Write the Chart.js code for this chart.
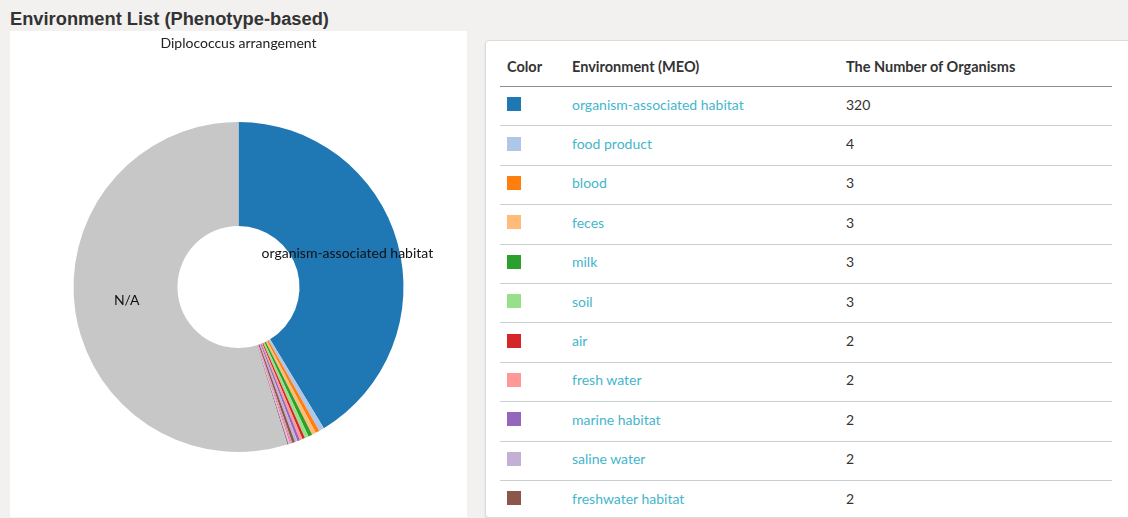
<!DOCTYPE html>
<html>
<head>
<meta charset="utf-8">
<title>Environment List (Phenotype-based)</title>
<script src="https://cdn.jsdelivr.net/npm/chart.js@4"></script>
<style>
  html, body { margin: 0; padding: 0; }
  body {
    width: 1128px; height: 518px; overflow: hidden; position: relative;
    background: #f2f1ef; font-family: Lato, "Open Sans", sans-serif; color: #333;
  }
  h2 {
    position: absolute; left: 10px; top: 8px; margin: 0;
    font: bold 18.3px "Liberation Sans", Arial, sans-serif; color: #333;
  }
  #chartPanel {
    position: absolute; left: 10px; top: 31px; width: 457px; height: 486px; background: #fff;
  }
  #tableCard {
    position: absolute; left: 485px; top: 40px; width: 660px; height: 476px;
    background: #fff; border: 1px solid #dcdcdc; border-radius: 4px;
    box-shadow: 0 1px 2px rgba(0,0,0,0.12); overflow: hidden;
  }
  .row {
    position: absolute; left: 14px; width: 612px; height: 39.4px; box-sizing: border-box;
    font-size: 14px; display: flex; align-items: center; padding-bottom: 4px;
  }
  .head { top: 6px; height: 40px; font-weight: bold; font-size: 14.5px; border-bottom: 1px solid #8c8c8c; padding-bottom: 1px; }
  .cell-color { position: absolute; left: 7px; }
  .cell-env { position: absolute; left: 72px; }
  .cell-num { position: absolute; left: 346px; }
  .swatch { width: 14px; height: 14px; display: block; }
  .env-link { color: #45b6cc; }
  .data { border-bottom: 1px solid #c9cfd0; }
</style>
</head>
<body>
<h2>Environment List (Phenotype-based)</h2>
<div id="chartPanel"><canvas id="envChart"></canvas></div>
<div id="tableCard"></div>
<script>
// Environments ordered by organism count, "N/A" last
const environments = [
  'organism-associated habitat', 'food product', 'blood', 'feces', 'milk', 'soil',
  'air', 'fresh water', 'marine habitat', 'saline water', 'freshwater habitat',
  'host', 'oral cavity', 'sewage', 'urine', 'N/A'
];
const organismCounts = [320, 4, 3, 3, 3, 3, 2, 2, 2, 2, 2, 1, 1, 1, 1, 424];
const sliceColors = [
  '#1f77b4', '#aec7e8', '#ff7f0e', '#ffbb78', '#2ca02c', '#98df8a', '#d62728', '#ff9896',
  '#9467bd', '#c5b0d5', '#8c564b', '#c49c94', '#e377c2', '#f7b6d2', '#7f7f7f', '#c7c7c7'
];
// Slice labels are only drawn for these environments
const labelledEnvironments = ['organism-associated habitat', 'N/A'];
const chartTitle = 'Diplococcus arrangement';
const tableHeaders = ['Color', 'Environment (MEO)', 'The Number of Organisms'];

// Table of environments (N/A excluded)
const card = document.getElementById('tableCard');
const head = document.createElement('div');
head.className = 'row head';
head.innerHTML = '<span class="cell-color">' + tableHeaders[0] + '</span>' +
  '<span class="cell-env">' + tableHeaders[1] + '</span>' +
  '<span class="cell-num">' + tableHeaders[2] + '</span>';
card.appendChild(head);
environments.forEach((env, i) => {
  if (env === 'N/A') return;
  const row = document.createElement('div');
  row.className = 'row data';
  row.style.top = (46 + i * 39.4) + 'px';
  row.innerHTML = '<span class="cell-color"><span class="swatch" style="background:' + sliceColors[i] + '"></span></span>' +
    '<span class="cell-env env-link">' + env + '</span>' +
    '<span class="cell-num">' + organismCounts[i] + '</span>';
  card.appendChild(row);
});

// Draws the environment name at the centroid of selected slices
const sliceLabels = {
  id: 'sliceLabels',
  afterDatasetsDraw(chart) {
    const ctx = chart.ctx;
    const meta = chart.getDatasetMeta(0);
    ctx.save();
    ctx.font = '14px Lato, "Open Sans", sans-serif';
    ctx.fillStyle = '#111';
    ctx.textAlign = 'center';
    ctx.textBaseline = 'middle';
    meta.data.forEach((arc, i) => {
      const name = chart.data.labels[i];
      if (!labelledEnvironments.includes(name)) return;
      const p = arc.getCenterPoint();
      ctx.fillText(name, p.x, p.y - 3);
    });
    ctx.restore();
  }
};

new Chart(document.getElementById('envChart'), {
  type: 'doughnut',
  data: {
    labels: environments,
    datasets: [{
      data: organismCounts,
      backgroundColor: sliceColors,
      borderWidth: 0,
      hoverOffset: 0
    }]
  },
  options: {
    responsive: true,
    maintainAspectRatio: false,
    animation: false,
    cutout: '37%',
    layout: { padding: { top: 0, bottom: 65, left: 0, right: 0 } },
    plugins: {
      legend: { display: false },
      tooltip: { enabled: true },
      title: {
        display: true,
        text: chartTitle,
        color: '#222',
        font: { family: 'Lato, "Open Sans", sans-serif', size: 14, weight: 'normal', lineHeight: 1.2 },
        padding: { top: 4, bottom: 70.2 }
      }
    }
  },
  plugins: [sliceLabels]
});
</script>
</body>
</html>
